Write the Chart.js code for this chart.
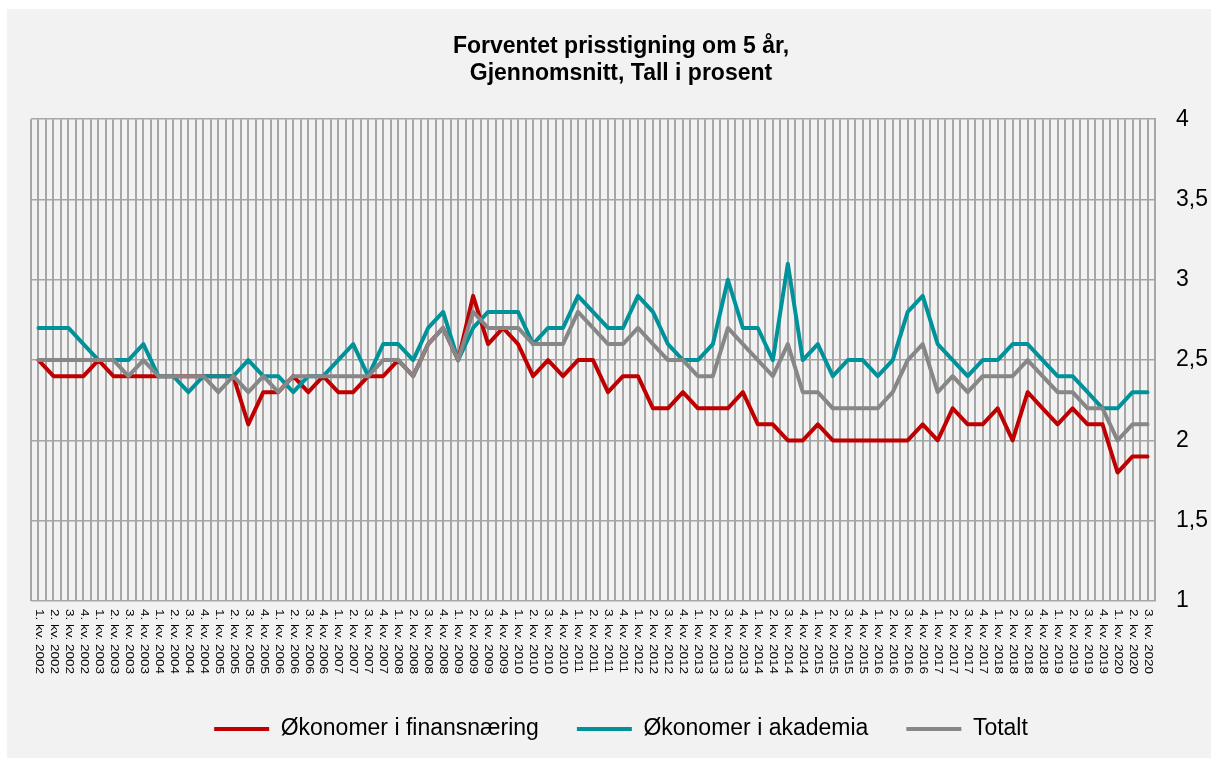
<!DOCTYPE html>
<html>
<head>
<meta charset="utf-8">
<script src="https://cdn.jsdelivr.net/npm/chart.js@4"></script>
<style>
  html, body { margin: 0; padding: 0; background: #fff; }
  #wrap { position: absolute; left: 7px; top: 9px; width: 1204px; height: 749px; background: #f2f2f2; }
</style>
</head>
<body>
<div id="wrap"><canvas id="chart"></canvas></div>
<script>
// Quarters 1. kv. 2002 .. 3. kv. 2020
const quarters = [];
for (let y = 2002; y <= 2020; y++) {
  for (let q = 1; q <= 4; q++) {
    if (y === 2020 && q > 3) break;
    quarters.push(q + '. kv. ' + y);
  }
}

const finans = [
  2.5, 2.4, 2.4, 2.4, 2.5, 2.4, 2.4, 2.4, 2.4, 2.4, 2.4, 2.4, 2.4, 2.4, 2.1, 2.3, 2.3, 2.4, 2.3, 2.4,
  2.3, 2.3, 2.4, 2.4, 2.5, 2.4, 2.6, 2.7, 2.5, 2.9, 2.6, 2.7, 2.6, 2.4, 2.5, 2.4, 2.5, 2.5, 2.3,
  2.4, 2.4, 2.2, 2.2, 2.3, 2.2, 2.2, 2.2, 2.3, 2.1, 2.1, 2.0, 2.0, 2.1, 2.0, 2.0, 2.0, 2.0, 2.0, 2.0,
  2.1, 2.0, 2.2, 2.1, 2.1, 2.2, 2.0, 2.3, 2.2, 2.1, 2.2, 2.1, 2.1, 1.8, 1.9, 1.9
];
const akademia = [
  2.7, 2.7, 2.7, 2.6, 2.5, 2.5, 2.5, 2.6, 2.4, 2.4, 2.3, 2.4, 2.4, 2.4, 2.5, 2.4, 2.4, 2.3, 2.4, 2.4,
  2.5, 2.6, 2.4, 2.6, 2.6, 2.5, 2.7, 2.8, 2.5, 2.7, 2.8, 2.8, 2.8, 2.6, 2.7, 2.7, 2.9, 2.8, 2.7,
  2.7, 2.9, 2.8, 2.6, 2.5, 2.5, 2.6, 3.0, 2.7, 2.7, 2.5, 3.1, 2.5, 2.6, 2.4, 2.5, 2.5, 2.4, 2.5, 2.8,
  2.9, 2.6, 2.5, 2.4, 2.5, 2.5, 2.6, 2.6, 2.5, 2.4, 2.4, 2.3, 2.2, 2.2, 2.3, 2.3
];
const totalt = [
  2.5, 2.5, 2.5, 2.5, 2.5, 2.5, 2.4, 2.5, 2.4, 2.4, 2.4, 2.4, 2.3, 2.4, 2.3, 2.4, 2.3, 2.4, 2.4, 2.4,
  2.4, 2.4, 2.4, 2.5, 2.5, 2.4, 2.6, 2.7, 2.5, 2.8, 2.7, 2.7, 2.7, 2.6, 2.6, 2.6, 2.8, 2.7, 2.6,
  2.6, 2.7, 2.6, 2.5, 2.5, 2.4, 2.4, 2.7, 2.6, 2.5, 2.4, 2.6, 2.3, 2.3, 2.2, 2.2, 2.2, 2.2, 2.3, 2.5,
  2.6, 2.3, 2.4, 2.3, 2.4, 2.4, 2.4, 2.5, 2.4, 2.3, 2.3, 2.2, 2.2, 2.0, 2.1, 2.1
];

const gridColor = '#a6a6a6';
Chart.defaults.font.family = "'Liberation Sans', Arial, sans-serif";
Chart.defaults.color = '#000';

// rotated quarter labels, reading top to bottom like the original
const quarterLabels = {
  id: 'quarterLabels',
  afterDraw(chart) {
    const ctx = chart.ctx;
    const xs = chart.scales.x;
    ctx.save();
    ctx.fillStyle = '#000';
    ctx.font = "10px 'Liberation Sans', Arial, sans-serif";
    ctx.textAlign = 'left';
    ctx.textBaseline = 'middle';
    quarters.forEach((lab, i) => {
      ctx.save();
      ctx.translate(xs.getPixelForValue(i), chart.chartArea.bottom + 8);
      ctx.rotate(Math.PI / 2);
      ctx.scale(1.35, 1);
      ctx.fillText(lab, 0, 0);
      ctx.restore();
    });
    ctx.restore();
  }
};

const line = (label, data, color, order) => ({
  label, data, order,
  borderColor: color,
  backgroundColor: color,
  borderWidth: 4,
  borderJoinStyle: 'round',
  borderCapStyle: 'round',
  pointRadius: 0,
  tension: 0
});

new Chart(document.getElementById('chart'), {
  type: 'line',
  data: {
    labels: quarters,
    datasets: [
      line('Økonomer i finansnæring', finans, '#c00000', 3),
      line('Økonomer i akademia', akademia, '#00929a', 2),
      line('Totalt', totalt, '#878787', 1)
    ]
  },
  options: {
    responsive: true,
    maintainAspectRatio: false,
    animation: false,
    layout: { padding: { left: 24, right: 0, top: 0, bottom: 7.5 } },
    scales: {
      x: {
        offset: true,
        grid: { offset: true, color: gridColor, lineWidth: 2, drawTicks: false },
        border: { display: false },
        ticks: { display: false },
        afterFit: (s) => { s.height = 78.5; }
      },
      x2: {
        type: 'category',
        labels: quarters,
        offset: true,
        grid: { offset: false, color: gridColor, lineWidth: 2, drawTicks: false },
        border: { display: false },
        ticks: { display: false },
        afterFit: (s) => { s.height = 0; }
      },
      y: {
        position: 'right',
        min: 1,
        max: 4,
        grid: { color: gridColor, lineWidth: 1.5, drawTicks: false },
        border: { color: gridColor, width: 2 },
        ticks: {
          stepSize: 0.5,
          padding: 21,
          font: { size: 23 },
          callback: (v) => String(v).replace('.', ',')
        },
        afterFit: (s) => { s.width = 56; }
      }
    },
    plugins: {
      title: {
        display: true,
        text: ['Forventet prisstigning om 5 år,', 'Gjennomsnitt, Tall i prosent'],
        font: { size: 23, weight: 'bold', lineHeight: 1.2 },
        padding: { top: 23.5, bottom: 31.5 }
      },
      legend: {
        position: 'bottom',
        labels: {
          usePointStyle: true,
          pointStyle: 'line',
          pointStyleWidth: 55,
          padding: 38,
          font: { size: 23 },
          sort: (a, b) => a.datasetIndex - b.datasetIndex
        }
      },
      tooltip: { enabled: false }
    }
  },
  plugins: [quarterLabels]
});
</script>
</body>
</html>
